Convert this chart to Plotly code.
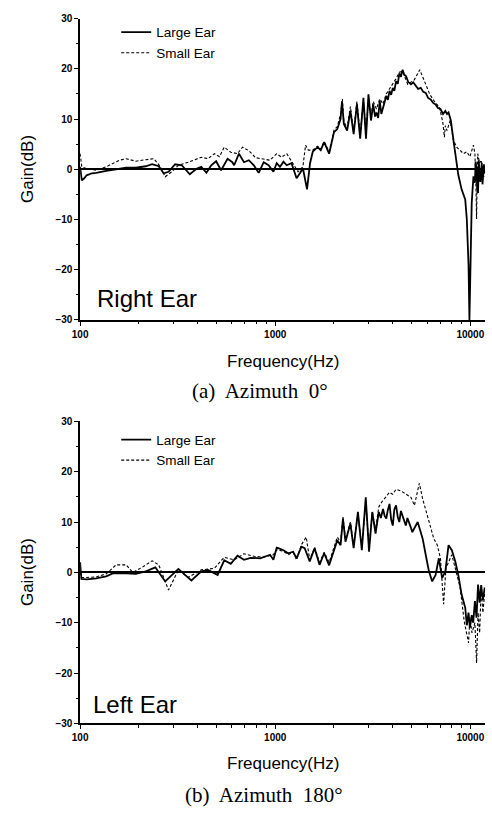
import plotly.graph_objects as go

# ---------------- data (frequency Hz, gain dB) ----------------
top_large = [(100,0.5),(102,-2.2),(105,-1.8),(108,-1.2),(115,-0.8),(121,-0.7),(136,-0.3),(153,0.0),(172,0.3),(193,0.3),
    (217,0.6),(234,1.0),(253,0.6),(268,-0.8),(284,-0.5),(307,1.0),(332,0.8),(365,-1.0),(395,0.1),(418,0.5),(444,-0.7),
    (470,0.8),(498,1.6),(528,-0.2),(570,2.1),(603,1.4),(616,0.8),(652,3.1),(692,1.4),(733,1.8),(777,0.8),(823,-0.7),
    (873,1.4),(925,0.8),(979,-0.5),(1018,1.2),(1058,0.5),(1103,1.5),(1146,0.8),(1212,1.2),(1287,-1.8),(1339,-0.8),
    (1387,0.2),(1456,-4.0),(1509,1.2),(1558,3.5),(1650,4.4),(1712,3.8),(1782,5.4),(1890,3.1),(2003,7.4),(2081,8.0),
    (2163,10.0),(2200,13.5),(2249,9.0),(2337,7.7),(2429,11.6),(2524,7.0),(2623,12.9),(2726,6.1),(2833,14.2),(2920,6.1),
    (3006,14.9),(3098,9.7),(3180,12.9),(3250,10.5),(3305,11.3),(3370,10.2),(3435,13.6),(3500,11.0),(3570,12.3),
    (3640,13.5),(3710,14.6),(3780,13.8),(3855,15.6),(3930,14.8),(4006,16.2),(4080,15.6),(4163,17.5),(4250,17.0),
    (4327,19.1),(4410,18.4),(4496,19.8),(4590,18.8),(4690,18.5),(4800,17.4),(4966,16.9),(5100,17.3),(5260,16.5),
    (5400,16.0),(5572,16.2),(5740,15.4),(5909,15.2),(6080,14.2),(6266,13.9),(6450,13.2),(6640,12.9),(6830,12.2),
    (7031,12.0),(7250,11.0),(7450,11.6),(7600,11.0),(7737,11.3),(7950,9.7),(8197,5.8),(8455,1.8),(8680,-1.1),
    (9025,-4.0),(9420,-6.0),(9597,-9.9),(9794,-19.0),(9900,-30.0),(10055,-16.5),(10170,-6.7),(10380,-1.4),
    (10560,-2.7),(10650,1.5),(10770,0.2),(10850,-3.5),(10960,-4.7),(11050,1.8),(11170,-0.1),(11250,-2.5),
    (11370,-0.8),(11450,1.2),(11550,-3.0),(11640,0.5),(11750,1.0),(11860,-0.8)]

top_small = [(100,3.1),(102,0.5),(108,0.1),(121,-0.2),(136,0.5),(147,1.2),(159,1.8),(172,2.1),(193,1.6),(217,1.9),
    (239,2.1),(258,0.5),(273,-1.5),(295,-0.5),(319,0.8),(358,1.4),(387,1.9),(418,2.4),(452,2.1),(488,3.1),(518,2.5),
    (548,4.4),(592,3.4),(641,3.1),(680,4.4),(733,3.7),(793,2.3),(873,2.1),(941,1.8),(1018,3.1),(1078,2.4),(1146,3.1),
    (1236,1.2),(1310,-0.5),(1387,0.5),(1431,4.8),(1478,3.8),(1558,3.8),(1650,4.6),(1712,4.0),(1782,5.5),(1890,3.5),
    (2003,7.8),(2081,8.5),(2163,11.0),(2210,14.0),(2249,9.5),(2337,8.2),(2429,12.5),(2524,7.5),(2623,13.5),(2726,7.0),
    (2833,13.5),(2920,7.5),(3006,14.0),(3098,10.5),(3180,13.5),(3305,12.0),(3435,14.0),(3570,13.0),(3710,15.0),
    (3855,16.0),(4006,16.8),(4163,18.0),(4327,19.3),(4496,19.5),(4784,16.9),(5163,17.8),(5510,19.8),(5845,17.5),
    (6200,14.9),(6520,13.6),(6955,12.3),(7232,9.3),(7366,6.4),(7450,8.7),(7594,7.7),(7889,9.7),(8197,5.8),(8519,4.4),
    (8872,3.8),(9240,3.1),(9597,3.5),(9954,2.5),(10380,4.8),(10560,3.1),(10700,-4.0),(10770,-9.9),(10850,-2.0),
    (10920,3.1),(11170,1.2),(11370,1.8),(11640,-0.1),(11860,-1.4)]

bot_large = [(100,2.0),(101.5,-1.3),(108,-1.4),(121,-1.2),(136,-0.8),(147,-0.2),(172,-0.2),(193,-0.3),(217,0.2),
    (243,1.0),(273,-1.8),(319,0.7),(345,-0.5),(372,-1.6),(418,0.2),(452,0.5),(507,-0.5),(548,2.4),(592,1.7),(641,3.3),
    (692,2.5),(747,2.9),(838,2.8),(941,3.5),(979,2.5),(1018,4.9),(1038,4.8),(1103,4.4),(1165,3.8),(1236,4.1),
    (1287,2.8),(1363,5.1),(1416,4.8),(1503,2.2),(1592,4.8),(1687,1.5),(1782,3.8),(1890,1.4),(2003,4.4),(2081,6.4),
    (2163,5.4),(2225,10.7),(2292,6.1),(2429,9.7),(2524,4.8),(2655,12.0),(2780,4.4),(2912,14.9),(3027,4.1),(3145,12.0),
    (3268,7.7),(3396,12.0),(3480,10.8),(3570,12.6),(3640,11.2),(3710,10.7),(3780,12.4),(3855,13.6),(3930,10.5),
    (4006,9.3),(4080,12.5),(4163,13.3),(4250,11.0),(4327,10.0),(4410,12.2),(4496,11.3),(4580,10.2),(4672,9.3),
    (4760,10.8),(4855,10.0),(4950,9.0),(5045,8.0),(5200,9.0),(5373,10.0),(5550,8.2),(5700,6.7),(5909,3.5),(6140,0.2),
    (6380,-1.8),(6640,-0.5),(6898,2.8),(7170,-1.1),(7450,0.2),(7737,5.4),(8040,4.4),(8375,2.2),(8680,-0.5),
    (9025,-4.4),(9420,-7.0),(9600,-10.5),(9794,-8.0),(9950,-11.0),(10170,-8.5),(10350,-10.0),(10560,-5.7),
    (10760,-9.0),(10960,-2.4),(11170,-6.0),(11370,-2.5),(11600,-5.5),(11860,-3.0)]

bot_small = [(100,0.0),(101.5,-1.0),(108,-1.0),(121,-0.9),(136,-0.3),(153,1.5),(172,1.5),(186,0.0),(208,1.0),
    (234,2.3),(253,1.5),(284,-3.5),(319,0.5),(358,-1.0),(418,0.5),(488,0.8),(548,3.0),(616,2.5),(692,3.7),(780,3.2),
    (870,3.0),(978,3.5),(1018,4.5),(1103,4.2),(1165,3.5),(1236,4.0),(1287,2.5),(1363,5.5),(1442,7.0),(1503,2.5),
    (1592,5.0),(1687,2.0),(1782,4.0),(1890,2.0),(2003,5.0),(2081,7.0),(2163,6.0),(2225,11.0),(2292,6.5),(2429,10.0),
    (2524,5.5),(2655,11.5),(2780,5.0),(2912,14.0),(3027,5.0),(3145,12.0),(3268,8.5),(3396,13.0),(3508,13.9),
    (3710,15.0),(3855,15.9),(4000,15.5),(4163,16.5),(4400,16.2),(4672,15.6),(4966,14.9),(5170,13.3),(5373,16.0),
    (5480,17.7),(5700,14.6),(6140,10.0),(6500,6.7),(6780,5.4),(7031,2.8),(7300,-6.3),(7500,0.8),(8040,3.5),
    (8375,0.8),(8872,-3.0),(9300,-9.6),(9600,-12.2),(9794,-14.0),(9950,-9.0),(10200,-12.0),(10560,-10.0),
    (10770,-18.0),(10960,-8.0),(11170,-12.0),(11370,-3.0),(11600,-8.0),(11860,-4.0)]

series_names = ["Large Ear", "Small Ear"]
panel_labels = ["Right Ear", "Left Ear"]
captions = ["(a)  Azimuth  0°", "(b)  Azimuth  180°"]
y_ticks = [-30, -20, -10, 0, 10, 20, 30]
x_ticks = [100, 1000, 10000]

# ---------------- layout geometry (pixels) ----------------
W, H = 492, 814
def px(x): return x / W
def py(y): return 1 - y / H

x_dom = [px(73.3), px(485)]
panels = [
    dict(top=12.7, bot=318.3, xa="x", ya="y", xo="x3", yo="y3", legend="legend"),
    dict(top=421.0, bot=727.3, xa="x2", ya="y2", xo="x4", yo="y4", legend="legend2"),
]
XR = [2, 4.076]
FONT = "Liberation Sans, Arial, sans-serif"

fig = go.Figure()
data = [(top_large, top_small), (bot_large, bot_small)]
for p, (lg, sm) in zip(panels, data):
    for i, (ser, name) in enumerate(zip((lg, sm), series_names)):
        fig.add_trace(go.Scatter(
            x=[a for a, b in ser], y=[b for a, b in ser], mode="lines", name=name,
            line=dict(color="black", width=1.8 if i == 0 else 1.1, dash="solid" if i == 0 else "3px,2px"),
            xaxis=p["xa"], yaxis=p["ya"], legend=p["legend"], showlegend=True))

axis_line = dict(showline=True, linecolor="black", linewidth=1.5, showgrid=False)
tickfont = dict(family=FONT, size=10, color="black", weight=700)

lay = {}
for k, p in enumerate(panels):
    ydom = [py(p["bot"]), py(p["top"])]
    xname = "xaxis" if k == 0 else "xaxis2"
    yname = "yaxis" if k == 0 else "yaxis2"
    lay[xname] = dict(type="log", range=XR, domain=x_dom, anchor=p["ya"], tickvals=x_ticks,
                      ticktext=[str(v) for v in x_ticks], ticks="outside", ticklen=4, tickwidth=1.2,
                      tickcolor="black", tickfont=tickfont, zeroline=False,
                      minor=dict(ticks="outside", ticklen=2.5, dtick="D1", tickcolor="black", showgrid=False),
                      **axis_line)
    lay[yname] = dict(range=[-30, 30], domain=ydom, anchor=p["xa"], tickvals=y_ticks, ticks="outside",
                      ticklen=4, tickwidth=1.2, tickcolor="black", tickfont=tickfont,
                      zeroline=True, zerolinecolor="black", zerolinewidth=1.6,
                      minor=dict(ticks="outside", ticklen=2.5, dtick=5, tickcolor="black", showgrid=False),
                      **axis_line)
    # mirrored top / right axes with inward ticks
    xo = "xaxis3" if k == 0 else "xaxis4"
    yo = "yaxis3" if k == 0 else "yaxis4"
    lay[xo] = dict(type="log", range=XR, domain=x_dom, overlaying=p["xa"], anchor=p["ya"], side="top",
                   tickvals=x_ticks, showticklabels=False, ticks="inside", ticklen=4, tickwidth=1.2,
                   tickcolor="black", zeroline=False,
                   minor=dict(ticks="inside", ticklen=2.5, dtick="D1", tickcolor="black", showgrid=False),
                   **axis_line)
    lay[yo] = dict(range=[-30, 30], domain=ydom, overlaying=p["ya"], anchor=p["xa"], side="right",
                   tickvals=y_ticks, showticklabels=False, ticks="inside", ticklen=4, tickwidth=1.2,
                   tickcolor="black", zeroline=False,
                   minor=dict(ticks="inside", ticklen=2.5, dtick=5, tickcolor="black", showgrid=False),
                   **axis_line)

legend_style = dict(font=dict(family=FONT, size=13.5, color="black"), bgcolor="rgba(0,0,0,0)",
                    xanchor="left", yanchor="top", itemwidth=30, tracegroupgap=0, traceorder="normal",
                    itemclick=False)
lay["legend"] = dict(x=px(110), y=py(11), **legend_style)
lay["legend2"] = dict(x=px(110), y=py(424), **legend_style)

ann = []
for k, p in enumerate(panels):
    mid = (p["top"] + p["bot"]) / 2
    ann.append(dict(text="Gain(dB)", x=px(20), y=py(mid), xref="paper", yref="paper", showarrow=False,
                    textangle=-90, font=dict(family=FONT, size=17, color="black"), xanchor="center", yanchor="middle"))
ann.append(dict(text="Frequency(Hz)", x=px(280), y=py(360), xref="paper", yref="paper", showarrow=False,
                font=dict(family=FONT, size=17, color="black"), xanchor="center", yanchor="middle"))
ann.append(dict(text="Frequency(Hz)", x=px(280), y=py(768), xref="paper", yref="paper", showarrow=False,
                font=dict(family=FONT, size=17, color="black"), xanchor="center", yanchor="middle"))
ann.append(dict(text=captions[0], x=px(256), y=py(390), xref="paper", yref="paper", showarrow=False,
                font=dict(family="Liberation Serif, Times New Roman, serif", size=21, color="black"),
                xanchor="center", yanchor="middle"))
ann.append(dict(text=captions[1], x=px(260), y=py(800), xref="paper", yref="paper", showarrow=False,
                font=dict(family="Liberation Serif, Times New Roman, serif", size=21, color="black"),
                xanchor="center", yanchor="middle"))
ann.append(dict(text=panel_labels[0], x=px(88), y=py(297), xref="paper", yref="paper", showarrow=False,
                font=dict(family=FONT, size=24, color="black"), xanchor="left", yanchor="middle"))
ann.append(dict(text=panel_labels[1], x=px(84), y=py(708), xref="paper", yref="paper", showarrow=False,
                font=dict(family=FONT, size=24, color="black"), xanchor="left", yanchor="middle"))

fig.update_layout(width=W, height=H, margin=dict(l=0, r=0, t=0, b=0), paper_bgcolor="white",
                  plot_bgcolor="white", annotations=ann, **lay)
fig.write_html("out.html")
